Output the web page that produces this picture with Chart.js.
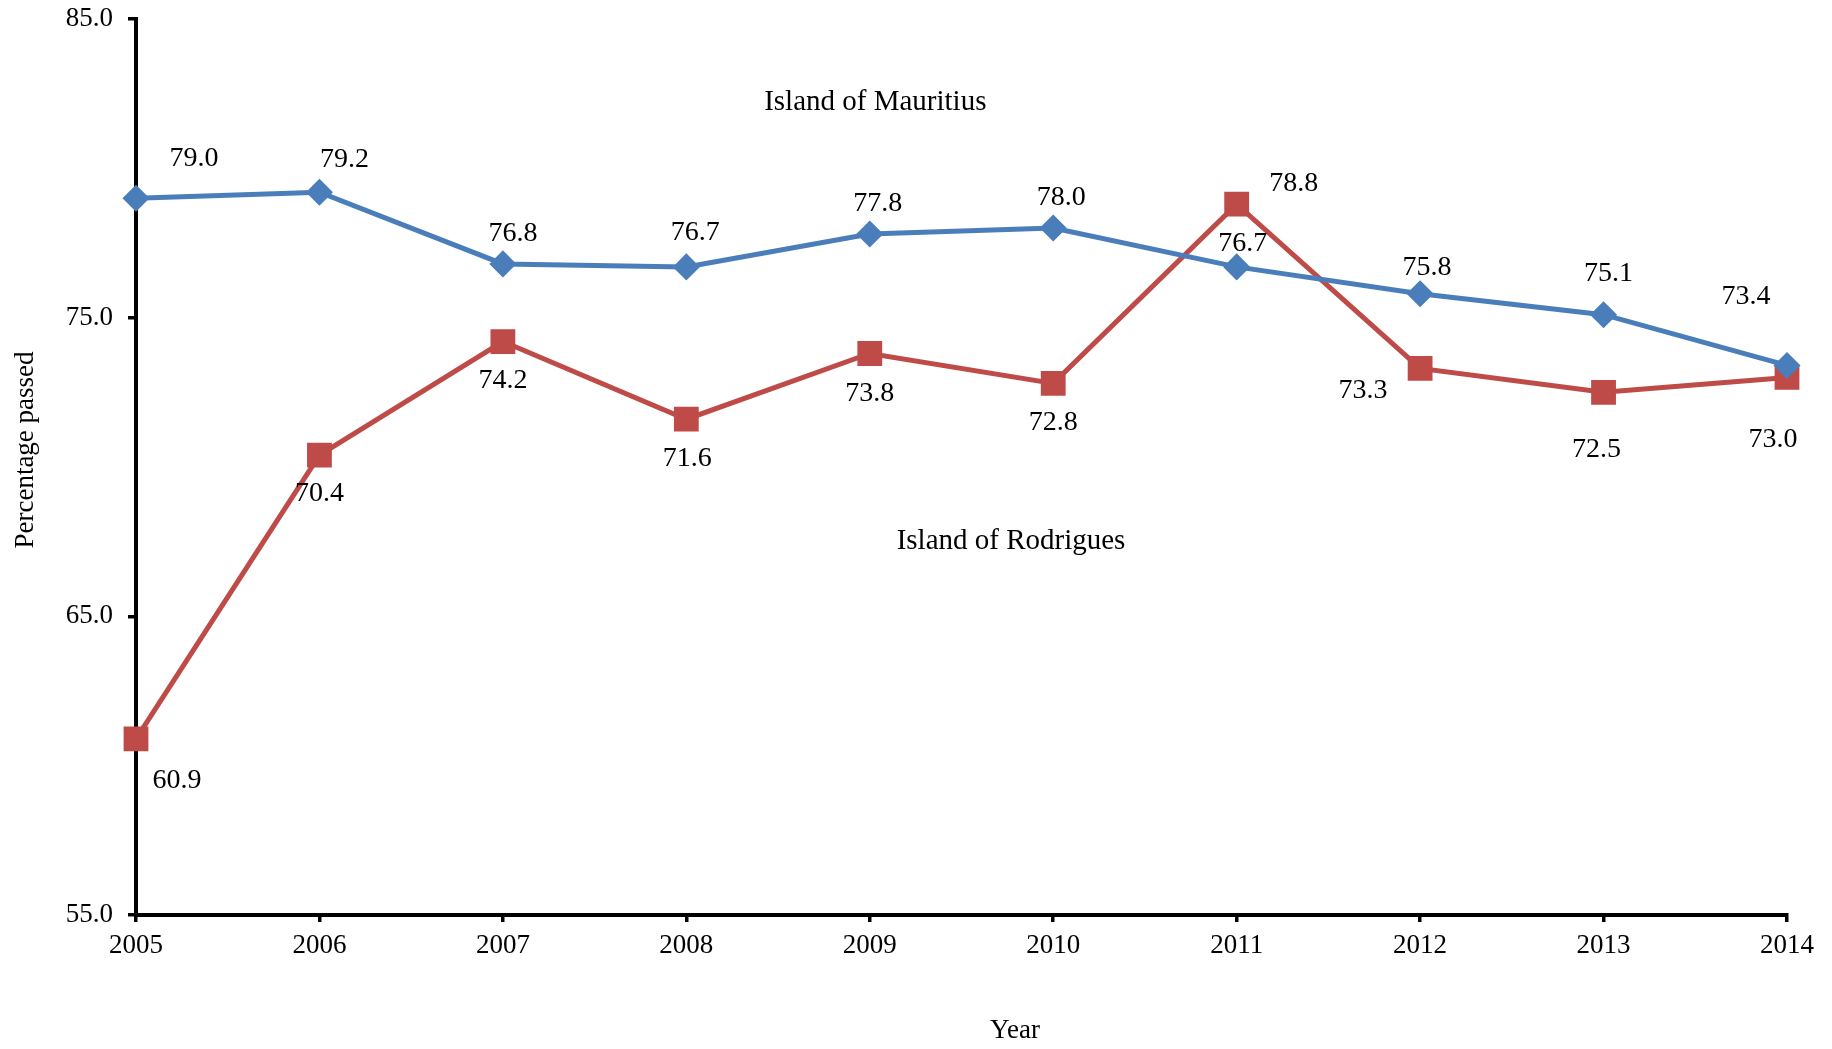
<!DOCTYPE html>
<html>
<head>
<meta charset="utf-8">
<script src="https://cdn.jsdelivr.net/npm/chart.js@4"></script>
<style>
  html, body { margin: 0; padding: 0; background: #fff; }
  #wrap { width: 1832px; height: 1049px; }
</style>
</head>
<body>
<div id="wrap"><canvas id="grafico" width="1832" height="1049"></canvas></div>
<script>
const years = ['2005', '2006', '2007', '2008', '2009', '2010', '2011', '2012', '2013', '2014'];
const mauritius = [79.0, 79.2, 76.8, 76.7, 77.8, 78.0, 76.7, 75.8, 75.1, 73.4];
const rodrigues = [60.9, 70.4, 74.2, 71.6, 73.8, 72.8, 78.8, 73.3, 72.5, 73.0];
const yTicks = [55, 65, 75, 85];

// label offsets in px, per point
const offMaur = [[58, -40], [25, -33], [10, -30], [9, -34], [8, -30], [8, -30], [6, -23], [7, -26], [5, -41], [-41, -69]];
const offRod = [[41, 42], [0, 39], [0, 39], [1, 39], [0, 40], [0, 39], [57, -21], [-57, 22], [-7, 57], [-14, 62]];

const serif = '"Liberation Serif", "Times New Roman", serif';

const etiquetas = {
    id: 'etiquetas',
    afterDatasetsDraw(chart) {
        const ctx = chart.ctx;
        const sx = chart.scales.x, sy = chart.scales.y;
        ctx.save();
        ctx.fillStyle = '#000';
        ctx.font = '28px ' + serif;
        ctx.textAlign = 'center';
        ctx.textBaseline = 'middle';
        [[mauritius, offMaur], [rodrigues, offRod]].forEach(([vals, offs]) => {
            vals.forEach((v, i) => {
                const px = sx.getPixelForValue(i), py = sy.getPixelForValue(v);
                ctx.fillText(v.toFixed(1), px + offs[i][0], py + offs[i][1]);
            });
        });
        // series names
        ctx.font = '29px ' + serif;
        ctx.fillText('Island of Mauritius', sx.getPixelForValue(4.03), sy.getPixelForValue(82.2));
        ctx.fillText('Island of Rodrigues', sx.getPixelForValue(4.77), sy.getPixelForValue(67.5));
        // axis titles
        ctx.font = '27px ' + serif;
        ctx.fillText('Year', 1015, 1031);
        ctx.translate(26, 450);
        ctx.rotate(-Math.PI / 2);
        ctx.fillText('Percentage passed', 0, 0);
        ctx.restore();
    }
};

new Chart(document.getElementById('grafico').getContext('2d'), {
    type: 'line',
    data: {
        labels: years,
        datasets: [
            {
                label: 'Island of Mauritius',
                data: mauritius,
                borderColor: '#4A7EBB',
                backgroundColor: '#4A7EBB',
                borderWidth: 5,
                pointStyle: 'rectRot',
                pointRadius: 10,
                pointHoverRadius: 10,
                tension: 0
            },
            {
                label: 'Island of Rodrigues',
                data: rodrigues,
                borderColor: '#BE4B48',
                backgroundColor: '#BE4B48',
                borderWidth: 5,
                pointStyle: 'rect',
                pointRadius: 14,
                pointHoverRadius: 14,
                tension: 0
            }
        ]
    },
    options: {
        responsive: false,
        animation: false,
        layout: { padding: { top: 18, right: 45, left: 0, bottom: 0 } },
        plugins: {
            legend: { display: false },
            tooltip: { enabled: false }
        },
        scales: {
            x: {
                offset: false,
                grid: { drawOnChartArea: false, drawTicks: true, tickLength: 7, color: '#000', lineWidth: 3.5 },
                border: { color: '#000', width: 4 },
                ticks: { color: '#000', font: { family: serif, size: 27 }, padding: 8, maxRotation: 0, autoSkip: false },
                afterFit(scale) { scale.height = 134; scale.paddingLeft = 0; scale.paddingRight = 0; }
            },
            y: {
                min: 55,
                max: 85,
                afterBuildTicks(scale) { scale.ticks = yTicks.map(v => ({ value: v })); },
                grid: { drawOnChartArea: false, drawTicks: true, tickLength: 8, color: '#000', lineWidth: 3.5 },
                border: { color: '#000', width: 4 },
                ticks: {
                    color: '#000',
                    font: { family: serif, size: 27 },
                    padding: 15,
                    callback: v => Number(v).toFixed(1)
                },
                afterFit(scale) { scale.width = 136; scale.paddingTop = 0; scale.paddingBottom = 0; }
            }
        }
    },
    plugins: [etiquetas]
});
</script>
</body>
</html>
